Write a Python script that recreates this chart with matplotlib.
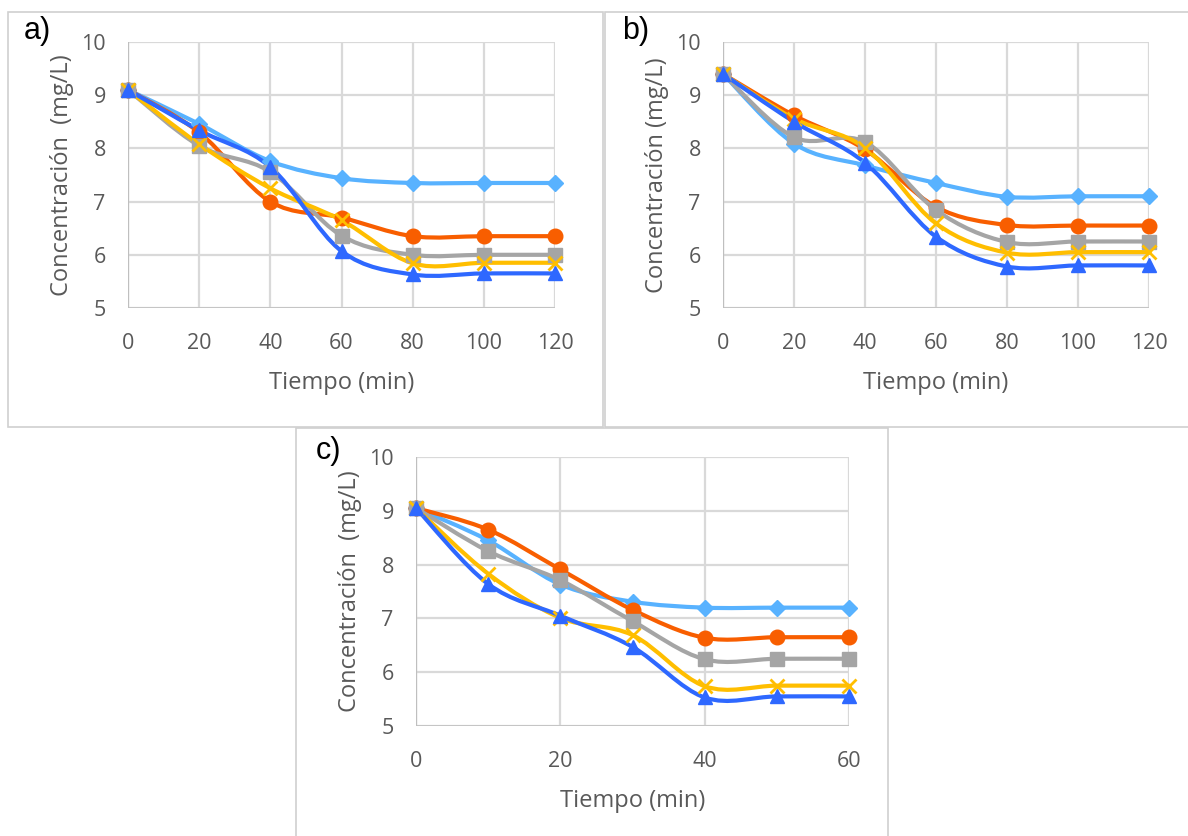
import numpy as np
import matplotlib
matplotlib.use("Agg")
import matplotlib.pyplot as plt
from matplotlib.path import Path
from matplotlib.patches import PathPatch, Rectangle

plt.rcParams['font.family'] = ['Open Sans', 'DejaVu Sans']

# ---------------- data ----------------
time_ab = [0, 20, 40, 60, 80, 100, 120]
time_c = [0, 10, 20, 30, 40, 50, 60]

# panel a
a_lightblue = [9.10, 8.46, 7.76, 7.44, 7.35, 7.35, 7.35]
a_orange    = [9.10, 8.30, 7.00, 6.70, 6.35, 6.35, 6.35]
a_gray      = [9.10, 8.05, 7.56, 6.36, 6.00, 6.00, 6.00]
a_yellow    = [9.10, 8.08, 7.25, 6.65, 5.84, 5.85, 5.85]
a_blue      = [9.10, 8.34, 7.65, 6.07, 5.63, 5.65, 5.65]

# panel b
b_lightblue = [9.40, 8.09, 7.68, 7.35, 7.09, 7.10, 7.10]
b_orange    = [9.40, 8.62, 7.98, 6.90, 6.56, 6.55, 6.55]
b_gray      = [9.40, 8.21, 8.12, 6.84, 6.24, 6.25, 6.25]
b_yellow    = [9.40, 8.56, 8.01, 6.59, 6.04, 6.05, 6.05]
b_blue      = [9.40, 8.50, 7.73, 6.34, 5.78, 5.80, 5.80]

# panel c
c_lightblue = [9.05, 8.45, 7.63, 7.31, 7.20, 7.20, 7.20]
c_orange    = [9.05, 8.65, 7.91, 7.16, 6.64, 6.65, 6.65]
c_gray      = [9.05, 8.25, 7.71, 6.95, 6.24, 6.25, 6.25]
c_yellow    = [9.05, 7.83, 7.01, 6.69, 5.74, 5.75, 5.75]
c_blue      = [9.05, 7.64, 7.05, 6.47, 5.53, 5.55, 5.55]

panel_labels = ["a)", "b)", "c)"]
xlabel = "Tiempo (min)"
ylabel_ac = "Concentración  (mg/L)"
ylabel_b = "Concentración (mg/L)"
yticks = [5, 6, 7, 8, 9, 10]
xticks_ab = [0, 20, 40, 60, 80, 100, 120]
xticks_c = [0, 20, 40, 60]

# ---------------- style ----------------
styles = [
    dict(color="#58B2FF", marker="D", ms=8.5),
    dict(color="#F85E00", marker="o", ms=10.5),
    dict(color="#A5A5A5", marker="s", ms=9.5),
    dict(color="#FFBE00", marker="x", ms=10, mew=2.0),
    dict(color="#2E68FF", marker="^", ms=10.5),
]
TICK_COLOR = "#595959"
GRID_COLOR = "#D9D9D9"

W, H = 1188, 836
fig = plt.figure(figsize=(W / 100, H / 100), dpi=100)
fig.patch.set_facecolor("white")


def smooth_path(x, y):
    """Excel-like smoothed line as cubic Bezier path in data coords."""
    x = np.asarray(x, float)
    y = np.asarray(y, float)
    n = len(x)
    verts = [(x[0], y[0])]
    codes = [Path.MOVETO]
    for i in range(n - 1):
        i0 = max(i - 1, 0)
        i3 = min(i + 2, n - 1)
        c1 = (x[i] + (x[i + 1] - x[i0]) / 6.0, y[i] + (y[i + 1] - y[i0]) / 6.0)
        c2 = (x[i + 1] - (x[i3] - x[i]) / 6.0, y[i + 1] - (y[i3] - y[i]) / 6.0)
        verts += [c1, c2, (x[i + 1], y[i + 1])]
        codes += [Path.CURVE4] * 3
    return Path(verts, codes)


def px_axes(l, t, r, b):
    return fig.add_axes([l / W, 1 - b / H, (r - l) / W, (b - t) / H])


def draw_panel(ax, t, series, xticks, xgrid, xmax, ylabel):
    ax.set_xlim(0, xmax)
    ax.set_ylim(5, 10)
    ax.set_yticks(yticks)
    ax.set_xticks(xticks)
    for gx in xgrid:
        ax.axvline(gx, color=GRID_COLOR, lw=1.6, zorder=0)
    for gy in yticks:
        ax.axhline(gy, color=GRID_COLOR, lw=1.6, zorder=0)
    for s in ax.spines.values():
        s.set_visible(False)
    ax.axhline(5, color="#BFBFBF", lw=1.8, zorder=1)
    ax.axvline(0, color="#BFBFBF", lw=1.6, zorder=1)
    ax.tick_params(length=0, labelsize=15.5, labelcolor=TICK_COLOR)
    ax.tick_params(axis="x", pad=18)
    ax.tick_params(axis="y", pad=16)
    ax.set_xlabel(xlabel, fontsize=17, color=TICK_COLOR, labelpad=12)
    ax.set_ylabel(ylabel, fontsize=17, color=TICK_COLOR, labelpad=5)
    for vals, st in zip(series, styles):
        patch = PathPatch(smooth_path(t, vals), facecolor="none",
                          edgecolor=st["color"], lw=3.0, clip_on=False,
                          zorder=3, capstyle="round", joinstyle="round")
        ax.add_patch(patch)
        ax.plot(t, vals, linestyle="none", marker=st["marker"],
                ms=st["ms"], color=st["color"], mec=st["color"],
                mew=st.get("mew", 1.0), clip_on=False, zorder=4)


# panel borders
for (l, t, r, b) in [(8, 12, 603, 427), (605, 12, 1195, 427), (296, 428, 888, 845)]:
    fig.add_artist(Rectangle((l / W, 1 - b / H), (r - l) / W, (b - t) / H,
                             transform=fig.transFigure, facecolor="none",
                             edgecolor="#D0D0D0", lw=1.2))

ax_a = px_axes(128, 42, 555, 308)
draw_panel(ax_a, time_ab, [a_lightblue, a_orange, a_gray, a_yellow, a_blue],
           xticks_ab, xticks_ab, 120, ylabel_ac)

ax_b = px_axes(723, 42, 1149, 308)
draw_panel(ax_b, time_ab, [b_lightblue, b_orange, b_gray, b_yellow, b_blue],
           xticks_ab, xticks_ab, 120, ylabel_b)

ax_c = px_axes(416, 457, 849, 726)
draw_panel(ax_c, time_c, [c_lightblue, c_orange, c_gray, c_yellow, c_blue],
           xticks_c, xticks_c, 60, ylabel_ac)

for lab, (px, py) in zip(panel_labels, [(24, 31), (622, 31), (316, 451)]):
    fig.text(px / W, 1 - py / H, lab, fontsize=22, family="Liberation Sans",
             color="black", ha="left", va="center")

fig.savefig("out.png", dpi=100, facecolor="white")
